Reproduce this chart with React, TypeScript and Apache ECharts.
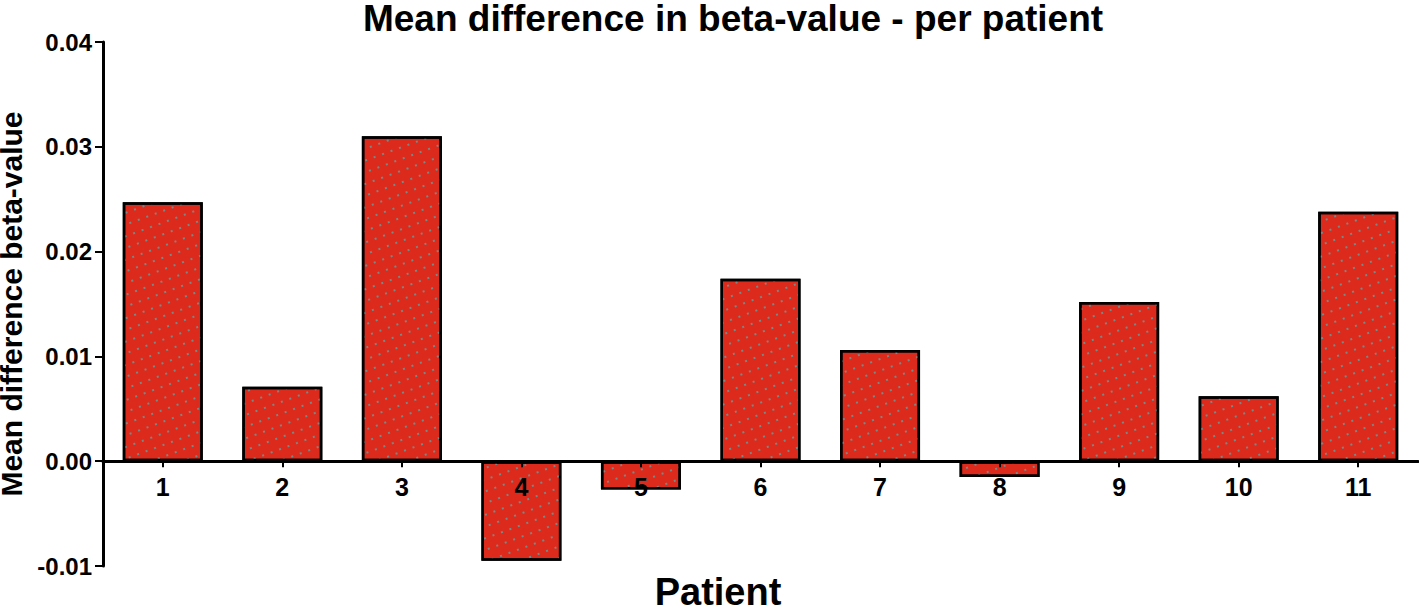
import React, { useEffect, useRef } from "react";
import * as echarts from "echarts";

const categories = ["1", "2", "3", "4", "5", "6", "7", "8", "9", "10", "11"];
const meanDiff = [0.0247, 0.0071, 0.031, -0.0095, -0.0027, 0.0174, 0.0106, -0.0015, 0.0152, 0.0062, 0.0238];
const yTicks = { min: -0.01, max: 0.04, interval: 0.01 };

export default function App() {
  const ref = useRef<HTMLDivElement>(null);
  useEffect(() => {
    const chart = echarts.init(ref.current!, undefined, { renderer: "svg" });
    const font = "Liberation Sans, Arial, Helvetica, sans-serif";
    const gridTop = 42;
    const gridBottomY = 566;
    const plotH = gridBottomY - gridTop;
    const zeroOffset = -((0 - yTicks.min) / (yTicks.max - yTicks.min)) * plotH;
    chart.setOption({
      animation: false,
      backgroundColor: "#ffffff",
      title: {
        text: "Mean difference in beta-value - per patient",
        left: 728,
        top: -5,
        textAlign: "center",
        textStyle: { fontFamily: font, fontWeight: "bold", fontSize: 37, color: "#000" },
      },
      grid: { left: 103, right: 1, top: gridTop, bottom: 609 - gridBottomY, outerBoundsMode: "none", containLabel: false },
      xAxis: {
        type: "category",
        data: categories,
        offset: zeroOffset,
        axisLine: { onZero: false, lineStyle: { color: "#000", width: 3 } },
        axisTick: { show: true, alignWithLabel: true, length: 6, lineStyle: { color: "#000", width: 2 } },
        axisLabel: { fontFamily: font, fontWeight: "bold", fontSize: 25, color: "#000", margin: 13 },
        splitLine: { show: false },
        z: 5,
      },
      yAxis: {
        type: "value",
        min: yTicks.min,
        max: yTicks.max,
        interval: yTicks.interval,
        name: "Mean difference beta-value",
        nameLocation: "middle",
        nameGap: 75,
        nameTextStyle: { fontFamily: font, fontWeight: "bold", fontSize: 30, color: "#000" },
        axisLine: { show: true, lineStyle: { color: "#000", width: 3 } },
        axisTick: { show: true, length: 8, lineStyle: { color: "#000", width: 2 } },
        axisLabel: {
          fontFamily: font,
          fontWeight: "bold",
          fontSize: 24,
          color: "#000",
          margin: 11,
          formatter: (v: number) => v.toFixed(2),
        },
        splitLine: { show: false },
      },
      graphic: [
        {
          type: "text",
          x: 718,
          y: 573,
          style: {
            text: "Patient",
            fontFamily: font,
            fontWeight: "bold",
            fontSize: 38,
            fill: "#000",
            textAlign: "center",
            textVerticalAlign: "top",
          },
        },
      ],
      series: [
        {
          type: "bar",
          data: meanDiff,
          barWidth: 80,
          itemStyle: {
            color: "#dc2a1c",
            borderColor: "#000",
            borderWidth: 2.5,
            decal: {
              symbol: "rect",
              symbolSize: 1,
              dashArrayX: [2, 7],
              dashArrayY: [2, 9],
              rotation: -0.35,
              color: "rgba(90,165,165,0.75)",
            },
          },
        },
      ],
    });
    return () => chart.dispose();
  }, []);
  return <div ref={ref} style={{ position: "fixed", left: 0, top: 0, width: 1419, height: 609 }} />;
}
